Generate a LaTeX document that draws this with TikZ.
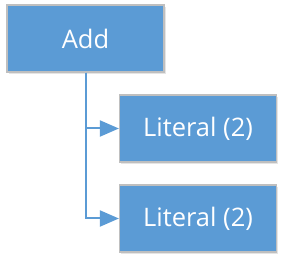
\documentclass[tikz,border=0pt]{standalone}
\usepackage{fontspec}
\setmainfont{Open Sans}
\usetikzlibrary{arrows.meta,shadows}
\definecolor{boxblue}{HTML}{5B9BD5}
\definecolor{boxedge}{HTML}{BFBFBF}
\tikzset{
  treebox/.style={draw=boxedge, line width=1.2pt, fill=boxblue, text=white,
    minimum width=157pt, minimum height=67pt, inner sep=0pt,
    font=\fontsize{25.5}{30}\selectfont,
    drop shadow={shadow xshift=1.5pt, shadow yshift=-2pt, opacity=0.25, fill=black!40}},
  link/.style={draw=boxblue, line width=2pt, -{Triangle[length=19pt,width=16pt]}}
}
\begin{document}
\begin{tikzpicture}[x=1pt,y=-1pt]
\useasboundingbox (0,0) rectangle (282,259);
\node[treebox] (add) at (85.5,38.5) {Add};
\node[treebox] (lit1) at (198,128.5) {Literal (2)};
\node[treebox] (lit2) at (198,218.5) {Literal (2)};
\coordinate (trunk) at (86,0);
\draw[link] (add.south -| trunk) |- (lit1.west);
\draw[link] (add.south -| trunk) |- (lit2.west);
\end{tikzpicture}
\end{document}
